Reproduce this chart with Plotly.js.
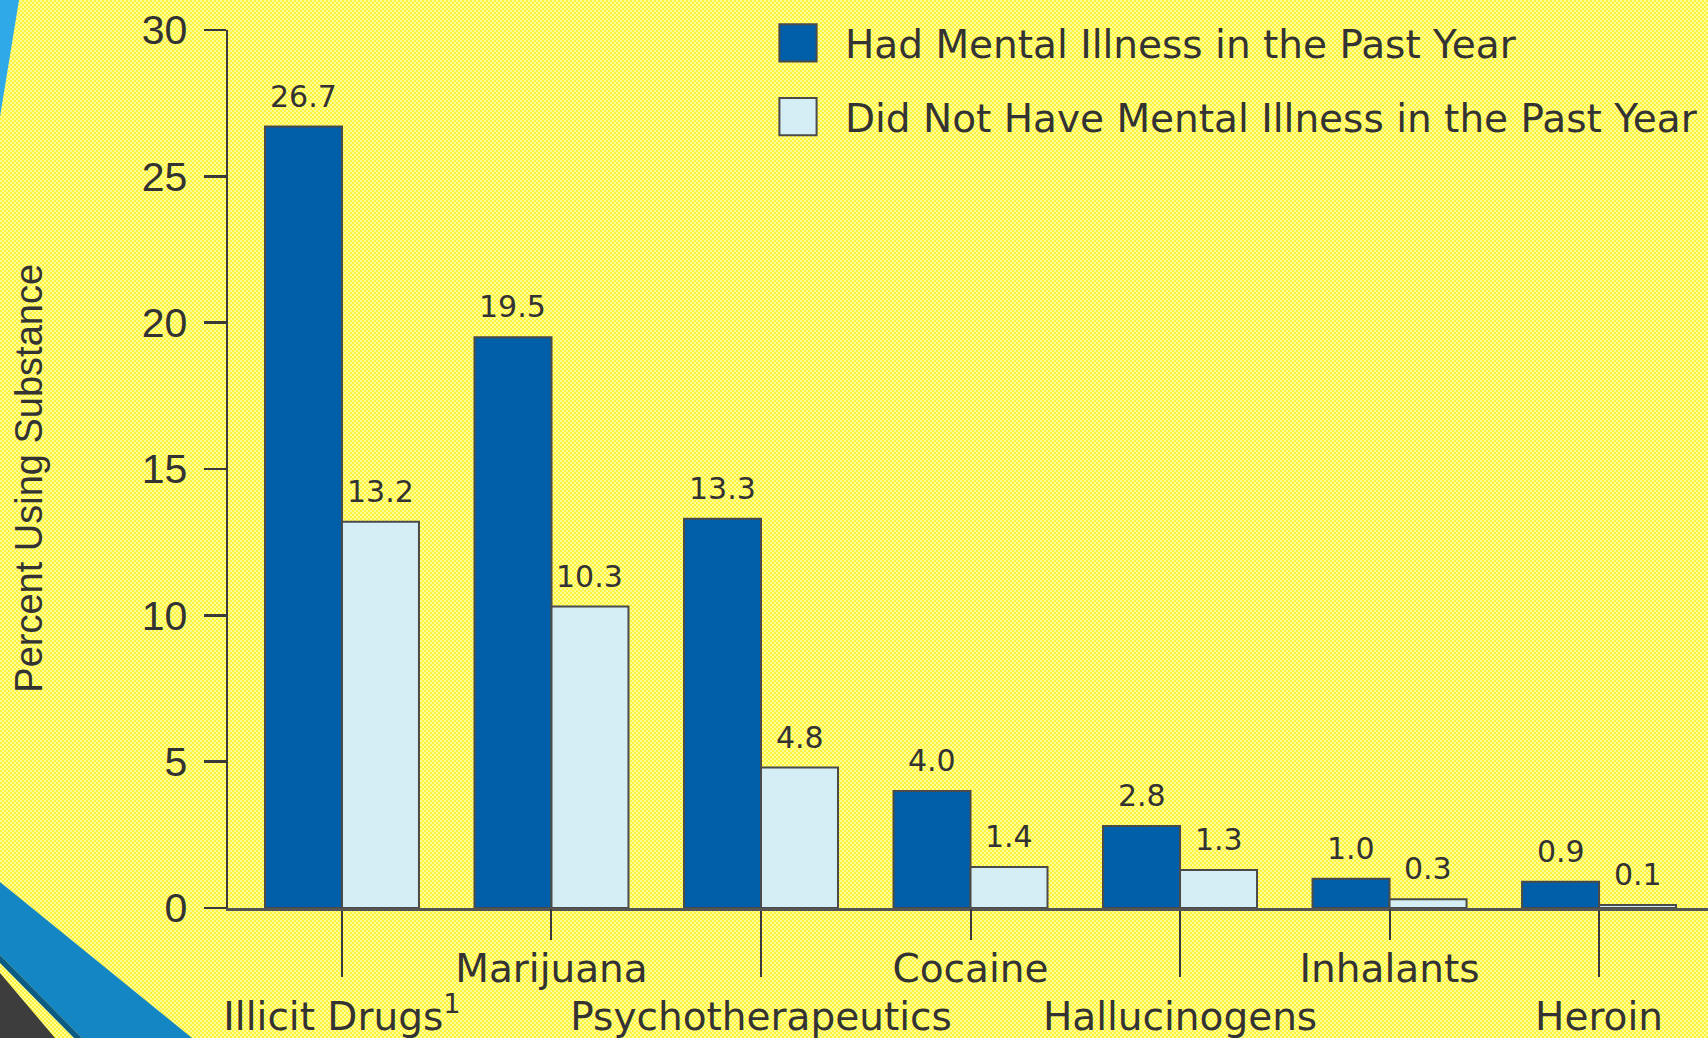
<!DOCTYPE html>
<html>
<head>
<meta charset="utf-8">
<script src="https://cdn.plot.ly/plotly-3.0.1.min.js"></script>
<style>
  html, body { margin: 0; padding: 0; width: 1708px; height: 1038px; overflow: hidden; }
  body { background: repeating-conic-gradient(#fff23e 0% 25%, #ffff98 0% 50%) 0 0 / 4px 4px; }
  #deco { position: absolute; left: 0; top: 0; width: 1708px; height: 1038px; z-index: 0; }
  #chart { position: absolute; left: 0; top: 0; width: 1708px; height: 1038px; z-index: 1; }
  .legendpoints path { transform: translate(20px, 0px) scale(3.1); stroke-width: 0.65px !important; }
</style>
</head>
<body>
<svg id="deco" width="1708" height="1038" xmlns="http://www.w3.org/2000/svg">
  <polygon points="0,0 19,0 0,117" fill="#30a9e8"/>
  <polygon points="0,882 192,1038 82,1038 0,955" fill="#1486c4"/>
  <polygon points="0,955 82,1038 74,1038 0,963" fill="#0b5b84"/>
  <polygon points="0,973 55,1038 0,1038" fill="#3d3d3d"/>
</svg>
<div id="chart"></div>
<script>
const categories = ["Illicit Drugs<sup>1</sup>", "Marijuana", "Psychotherapeutics", "Cocaine", "Hallucinogens", "Inhalants", "Heroin"];
const seriesNames = ["Had Mental Illness in the Past Year", "Did Not Have Mental Illness in the Past Year"];
const hadMentalIllness = [26.7, 19.5, 13.3, 4.0, 2.8, 1.0, 0.9];
const noMentalIllness = [13.2, 10.3, 4.8, 1.4, 1.3, 0.3, 0.1];
const yTicks = [0, 5, 10, 15, 20, 25, 30];
const yTitle = "Percent Using Substance";

const idx = categories.map((c, i) => i);
const bargap = 0.265;
const halfBar = (1 - bargap) / 4;

const darkBlue = "#005fa8";
const lightBlue = "#d5edf5";
const outline = "#4a4a4a";
const axisColor = "#3a3a3a";

const traces = [
  {
    type: "bar", name: seriesNames[0], x: idx, y: hadMentalIllness,
    marker: { color: darkBlue, line: { color: outline, width: 2 } },
    legendgroup: "a", hoverinfo: "skip"
  },
  {
    type: "bar", name: seriesNames[1], x: idx, y: noMentalIllness,
    marker: { color: lightBlue, line: { color: outline, width: 2 } },
    legendgroup: "b", hoverinfo: "skip"
  },
  {
    type: "scatter", mode: "none", x: idx, y: idx.map(() => 0), xaxis: "x2",
    showlegend: false, hoverinfo: "skip"
  }
];

const annotations = [];
idx.forEach(i => {
  annotations.push({ x: i - halfBar, y: hadMentalIllness[i], xref: "x", yref: "y",
    text: hadMentalIllness[i].toFixed(1), showarrow: false, yanchor: "bottom", yshift: 11,
    font: { family: "DejaVu Sans, sans-serif", size: 30, color: "#333" } });
  annotations.push({ x: i + halfBar, y: noMentalIllness[i], xref: "x", yref: "y",
    text: noMentalIllness[i].toFixed(1), showarrow: false, yanchor: "bottom", yshift: 11,
    font: { family: "DejaVu Sans, sans-serif", size: 30, color: "#333" } });
});
// y-axis title, placed left of the tick labels
annotations.push({ xref: "paper", yref: "paper", x: -0.1345, y: 0.49,
  xanchor: "center", yanchor: "middle", textangle: -90, showarrow: false,
  text: yTitle, font: { family: "Liberation Sans, Arial, sans-serif", size: 38, color: "#333" } });

const xRange = [-0.544, 6.52];
const evenIdx = idx.filter(i => i % 2 === 0);
const oddIdx = idx.filter(i => i % 2 === 1);

const layout = {
  width: 1708, height: 1038,
  paper_bgcolor: "rgba(0,0,0,0)", plot_bgcolor: "rgba(0,0,0,0)",
  margin: { l: 228, r: 0, t: 30, b: 130, autoexpand: false },
  barmode: "group", bargap: bargap, bargroupgap: 0,
  showlegend: true,
  legend: {
    xref: "container", yref: "container", x: 778 / 1708, y: 1 - 11 / 1038,
    xanchor: "left", yanchor: "top",
    traceorder: "grouped", tracegroupgap: 20, itemwidth: 57,
    bgcolor: "rgba(0,0,0,0)",
    font: { family: "DejaVu Sans, sans-serif", size: 39, color: "#333" }
  },
  xaxis: {
    type: "linear", range: xRange, fixedrange: true, automargin: false,
    tickmode: "array", tickvals: evenIdx, ticktext: evenIdx.map(i => categories[i]),
    ticks: "outside", ticklen: 66, tickwidth: 2, tickcolor: axisColor,
    ticklabelstandoff: 6,
    showline: true, linecolor: "#555", linewidth: 3,
    showgrid: false, zeroline: false,
    tickfont: { family: "DejaVu Sans, sans-serif", size: 39, color: "#333" }
  },
  xaxis2: {
    type: "linear", range: xRange, overlaying: "x", anchor: "y", side: "bottom",
    fixedrange: true, automargin: false,
    tickmode: "array", tickvals: oddIdx, ticktext: oddIdx.map(i => categories[i]),
    ticks: "outside", ticklen: 31, tickwidth: 2, tickcolor: axisColor,
    ticklabelstandoff: -5,
    showline: false, showgrid: false, zeroline: false,
    tickfont: { family: "DejaVu Sans, sans-serif", size: 39, color: "#333" }
  },
  yaxis: {
    range: [0, 30], fixedrange: true, automargin: false,
    tickmode: "array", tickvals: yTicks, ticktext: yTicks.map(String),
    ticks: "outside", ticklen: 22, tickwidth: 2.5, tickcolor: axisColor,
    ticklabelstandoff: 8,
    showline: true, linecolor: axisColor, linewidth: 2.5,
    showgrid: false, zeroline: false,
    tickfont: { family: "Liberation Sans, Arial, sans-serif", size: 41, color: "#333" }
  },
  annotations: annotations
};

Plotly.newPlot("chart", traces, layout, { displayModeBar: false, staticPlot: true });
</script>
</body>
</html>
